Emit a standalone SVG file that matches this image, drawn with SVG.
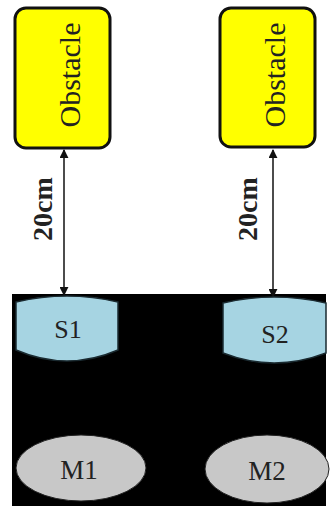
<svg xmlns="http://www.w3.org/2000/svg" width="331" height="506" viewBox="0 0 331 506">
<style>
.obs{fill:#ffff00;stroke:#111;stroke-width:3}
.t{font-family:"Liberation Serif","Times New Roman",serif;fill:#222}
.sen{fill:#a6d4e2;stroke:#1a2a30;stroke-width:1.5}
.mot{fill:#c8c8c8;stroke:#222;stroke-width:1}
.ln{stroke:#111;stroke-width:1.5;fill:none;marker-start:url(#ah);marker-end:url(#ah)}
</style>
<defs>
<marker id="ah" viewBox="0 0 10 10" refX="9" refY="5" markerWidth="6" markerHeight="6" orient="auto-start-reverse" markerUnits="strokeWidth">
<path d="M0,0 L10,5 L0,10 Z" fill="#111"/>
</marker>
</defs>
<rect x="0" y="0" width="331" height="506" fill="#fff"/>
<g id="robot">
<rect x="12" y="294" width="314" height="212" fill="#000"/>
</g>
<g id="obstacle1">
<rect class="obs" x="15" y="8" width="95" height="140" rx="11"/>
<text class="t" font-size="30" text-anchor="middle" transform="translate(80,75) rotate(-90)">Obstacle</text>
</g>
<g id="obstacle2">
<rect class="obs" x="220" y="8" width="95" height="139" rx="11"/>
<text class="t" font-size="30" text-anchor="middle" transform="translate(285,75) rotate(-90)">Obstacle</text>
</g>
<g id="connectors">
<line class="ln" x1="64" y1="150" x2="64" y2="295"/>
<line class="ln" x1="273" y1="150" x2="273" y2="297"/>
<text class="t" font-size="28" font-weight="bold" text-anchor="middle" transform="translate(52,209) rotate(-90)">20cm</text>
<text class="t" font-size="28" font-weight="bold" text-anchor="middle" transform="translate(257,209) rotate(-90)">20cm</text>
</g>
<g id="S1">
<path class="sen" d="M16,302 Q67,290 118,302 L118,350 Q67,372 16,350 Z"/>
<text class="t" font-size="26" text-anchor="middle" x="68" y="338">S1</text>
</g>
<g id="S2">
<path class="sen" d="M223,303 Q274,291 326,303 L326,353 Q274,373 223,353 Z"/>
<text class="t" font-size="26" text-anchor="middle" x="275" y="343">S2</text>
</g>
<g id="M1">
<ellipse class="mot" cx="81" cy="468" rx="65" ry="33"/>
<text class="t" font-size="27" text-anchor="middle" x="79" y="479">M1</text>
</g>
<g id="M2">
<ellipse class="mot" cx="267" cy="469" rx="62" ry="34"/>
<text class="t" font-size="27" text-anchor="middle" x="267" y="480">M2</text>
</g>
</svg>
